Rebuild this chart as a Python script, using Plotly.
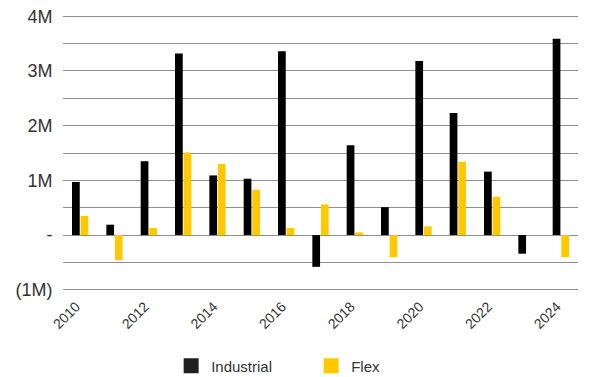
import plotly.graph_objects as go

years = [str(y) for y in range(2010, 2025)]
industrial = [0.97, 0.19, 1.35, 3.32, 1.09, 1.03, 3.36, -0.58, 1.64, 0.51, 3.18, 2.23, 1.16, -0.34, 3.59]
flex = [0.35, -0.46, 0.13, 1.51, 1.30, 0.83, 0.13, 0.56, 0.05, -0.40, 0.16, 1.34, 0.70, 0.0, -0.40]
industrial = [v * 1e6 for v in industrial]
flex = [v * 1e6 for v in flex]

ytick_vals = [-1e6, -5e5, 0, 5e5, 1e6, 1.5e6, 2e6, 2.5e6, 3e6, 3.5e6, 4e6]
ytick_text = ["(1M)", " ", "-", " ", "1M", " ", "2M", " ", "3M", " ", "4M"]
xtick_labels = [y if int(y) % 2 == 0 else "" for y in years]

font_family = "Arial"
ind_color = "#000000"
flex_color = "#ffc800"

fig = go.Figure()
fig.add_trace(go.Bar(x=years, y=industrial, name="Industrial", showlegend=False,
                     marker=dict(color=ind_color, line=dict(width=0))))
fig.add_trace(go.Bar(x=years, y=flex, name="Flex", showlegend=False,
                     marker=dict(color=flex_color, line=dict(width=0))))
# legend swatches
fig.add_trace(go.Scatter(x=[None], y=[None], mode="markers", name="Industrial",
                         marker=dict(symbol="square", size=15, color="#231f20")))
fig.add_trace(go.Scatter(x=[None], y=[None], mode="markers", name="Flex",
                         marker=dict(symbol="square", size=15, color=flex_color)))

fig.update_layout(
    width=589, height=377,
    margin=dict(l=63, r=11, t=14, b=85, autoexpand=False),
    paper_bgcolor="white", plot_bgcolor="white",
    barmode="group", bargap=0.5, bargroupgap=0.1,
    font=dict(family=font_family, color="#333333"),
    showlegend=True,
    legend=dict(orientation="h", x=0.21, xanchor="left", yref="container", y=0.029, yanchor="middle",
                font=dict(size=15, color="#333333"), entrywidth=95, traceorder="normal"),
    xaxis=dict(type="category", tickmode="array", tickvals=years, ticktext=xtick_labels,
               tickangle=-45, tickfont=dict(size=14, color="#333333"), showgrid=False,
               showline=False, ticks="outside", ticklen=0, tickcolor="white",
               ticklabelshift=-4, automargin=False),
    yaxis=dict(range=[-1.04e6, 4.04e6], tickmode="array", tickvals=ytick_vals, ticktext=ytick_text,
               tickfont=dict(size=18, color="#333333"), showgrid=True, gridcolor="#8f8f8f",
               gridwidth=1, zeroline=True, zerolinecolor="#8f8f8f", zerolinewidth=1,
               ticks="outside", ticklen=0, tickcolor="white", ticklabelstandoff=6,
               tickangle=0, automargin=False),
)
fig.write_html("out.html")
